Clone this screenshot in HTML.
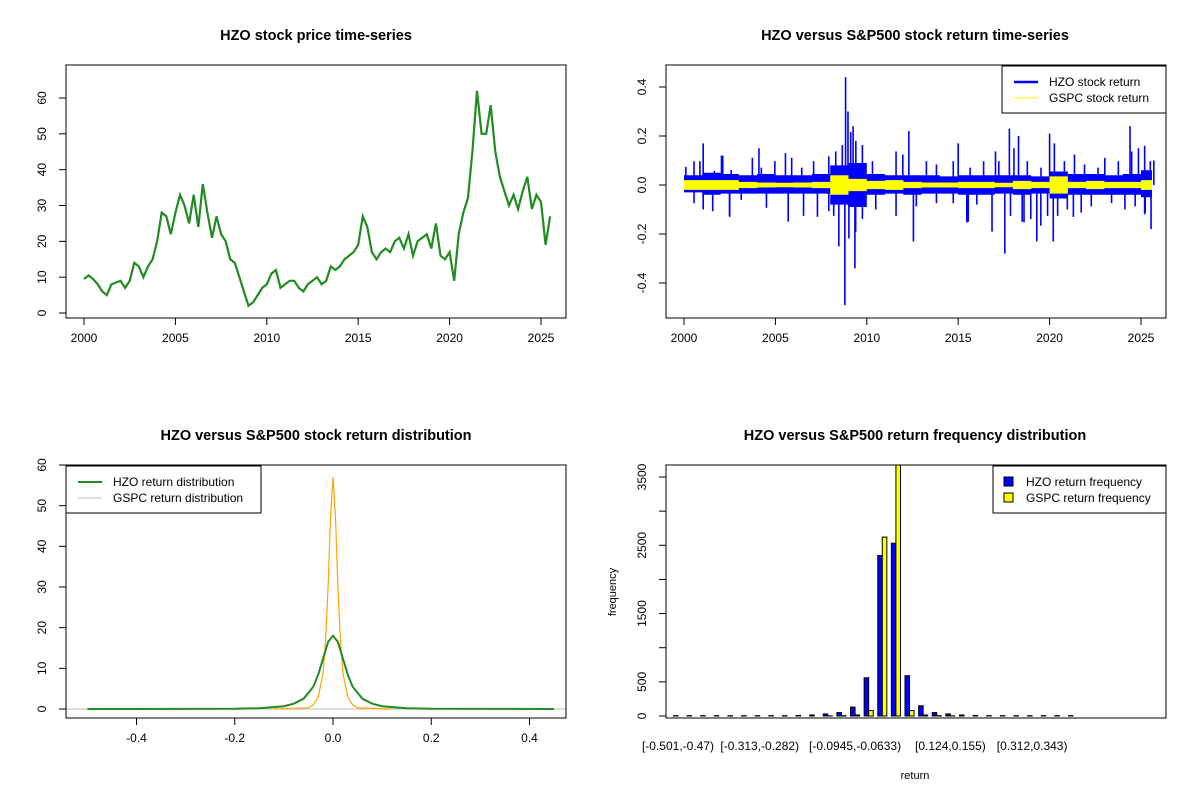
<!DOCTYPE html>
<html><head><meta charset="utf-8"><style>
html,body{margin:0;padding:0;background:#fff;}
svg{display:block;font-family:"Liberation Sans",Arial,sans-serif;}
</style></head><body>
<svg id="c" width="1200" height="800" viewBox="0 0 1200 800"></svg>
<script>
// ---- Panel 1 data: quarterly HZO price ----
const priceYears0 = 2000;
const priceValues = [9.5,10.5,9.5,8, 6,5,8,8.5, 9,7,9,14, 13,10,13,15, 20,28,27,22, 28,33,30,25, 33,24,36,28, 21,27,22,20, 15,14,10,6, 2,3,5,7, 8,11,12,7, 8,9,9,7, 6,8,9,10, 8,9,13,12, 13,15,16,17, 19,27,24,17, 15,17,18,17, 20,21,18,22, 16,20,21,22, 18,25,16,15, 17,9,22,28, 32,45,62,50, 50,58,45,38, 34,30,33,29, 34,38,29,33, 31,19,27];
const priceTicksX = [2000,2005,2010,2015,2020,2025];
const priceTicksY = [0,10,20,30,40,50,60];
// ---- Panel 2 data ----
const retYears = [2000,2001,2002,2003,2004,2005,2006,2007,2008,2009,2010,2011,2012,2013,2014,2015,2016,2017,2018,2019,2020,2021,2022,2023,2024,2025];
const hzoUpper = [0.04,0.05,0.045,0.04,0.045,0.04,0.04,0.045,0.08,0.09,0.045,0.04,0.04,0.04,0.035,0.04,0.04,0.04,0.04,0.035,0.055,0.045,0.045,0.04,0.045,0.06];
const hzoLower = [-0.03,-0.04,-0.035,-0.035,-0.035,-0.035,-0.035,-0.035,-0.08,-0.09,-0.04,-0.035,-0.04,-0.035,-0.035,-0.04,-0.04,-0.035,-0.04,-0.035,-0.055,-0.04,-0.04,-0.04,-0.04,-0.05];
const gspcAmp = [0.02,0.02,0.02,0.013,0.01,0.009,0.01,0.013,0.04,0.025,0.017,0.02,0.013,0.01,0.01,0.013,0.013,0.009,0.017,0.013,0.035,0.013,0.017,0.013,0.013,0.02];
const spikeYears = [2001.05,2002.05,2004.1,2005.55,2008.84,2008.97,2009.25,2009.4,2012.3,2015.0,2017.8,2018.3,2020.0,2024.4,2025.2,2025.7,
 2001.05,2002.5,2005.7,2007.3,2008.47,2008.8,2009.35,2012.55,2015.55,2016.85,2017.55,2018.5,2019.3,2020.2,2021.3,2025.2,2025.55,
 2000.1,2000.55,2000.87,2001.66,2002.12,2002.58,2003.74,2004.23,2004.97,2005.89,2006.44,2007.09,2007.92,2008.3,2008.66,2009.12,2009.76,2010.31,2011.6,2011.97,2013.26,2013.81,2014.73,2015.65,2016.39,2017.04,2017.22,2018.05,2018.78,2019.53,2020.26,2020.81,2021.36,2021.91,2022.65,2023.02,2023.76,2024.49,2024.86,2025.51,
 2000.55,2001.57,2002.49,2003.13,2004.51,2006.54,2007.92,2008.19,2009.02,2009.39,2009.76,2010.49,2011.6,2012.71,2013.81,2014.73,2015.47,2016.02,2017.86,2018.6,2018.97,2019.52,2019.89,2020.44,2020.97,2021.73,2022.28,2023.39,2024.12,2024.68,2025.23];
const spikeValues = [0.17,0.12,0.15,0.13,0.44,0.30,0.24,0.18,0.22,0.17,0.23,0.20,0.21,0.24,0.16,0.10,
 -0.10,-0.13,-0.15,-0.13,-0.25,-0.49,-0.34,-0.23,-0.15,-0.19,-0.28,-0.15,-0.23,-0.23,-0.13,-0.12,-0.18,
 0.074,0.097,0.097,0.058,0.12,0.061,0.111,0.071,0.097,0.111,0.071,0.097,0.117,0.137,0.163,0.216,0.163,0.097,0.137,0.124,0.097,0.084,0.097,0.071,0.097,0.137,0.097,0.150,0.097,0.071,0.170,0.097,0.124,0.084,0.071,0.111,0.097,0.137,0.150,0.097,
 -0.074,-0.107,-0.126,-0.061,-0.093,-0.126,-0.107,-0.126,-0.218,-0.191,-0.139,-0.100,-0.126,-0.087,-0.074,-0.074,-0.153,-0.080,-0.126,-0.153,-0.139,-0.166,-0.126,-0.126,-0.100,-0.113,-0.087,-0.074,-0.100,-0.087,-0.113];
const retTicksY = [-0.4,-0.2,0.0,0.2,0.4];
const retTickLabels = ["-0.4","-0.2","0.0","0.2","0.4"];
// ---- Panel 3 data ----
const hzoDensX = [-0.5,-0.2,-0.15,-0.1,-0.08,-0.06,-0.04,-0.03,-0.02,-0.01,0,0.01,0.02,0.03,0.04,0.06,0.08,0.1,0.15,0.2,0.45];
const hzoDensY = [0,0.05,0.2,0.7,1.3,2.5,5.5,8.5,12.5,16.5,18,16.5,12.5,8.5,5.5,2.5,1.3,0.7,0.2,0.05,0];
const gspcDensX = [-0.12,-0.05,-0.04,-0.03,-0.02,-0.015,-0.01,-0.005,0,0.005,0.01,0.015,0.02,0.03,0.04,0.05,0.12];
const gspcDensY = [0,0.3,1,3,9,17,30,47,57,47,30,17,9,3,1,0.3,0];
const densTicksX = [-0.4,-0.2,0,0.2,0.4];
const densTickLabels = ["-0.4","-0.2","0.0","0.2","0.4"];
const densTicksY = [0,10,20,30,40,50,60];
// ---- Panel 4 data ----
const hzoFreq = [5,5,5,5,5,5,5,5,5,8,15,30,50,130,560,2350,2530,590,150,50,30,15,8,5,5,5,5,5,5,5];
const gspcFreq = [0,0,0,0,0,0,0,0,0,0,0,2,5,15,80,2620,3700,80,15,5,2,0,0,0,0,0,0,0,0,0];
const binLabelIdx = [0,6,13,20,26];
const binLabels = ["[-0.501,-0.47)","[-0.313,-0.282)","[-0.0945,-0.0633)","[0.124,0.155)","[0.312,0.343)"];
const freqTicks = [0,500,1000,1500,2000,2500,3000,3500];
const freqLabelTicks = [0,500,1500,2500,3500];

const svg = document.getElementById('c');
const NS = 'http://www.w3.org/2000/svg';
function mk(tag, attrs, parent){const e=document.createElementNS(NS,tag);for(const k in attrs)e.setAttribute(k,attrs[k]);(parent||svg).appendChild(e);return e;}
function txt(s, x, y, size, opts, parent){const t=mk('text',Object.assign({x:x,y:y,'font-size':size,'text-anchor':'middle',fill:'#000'},opts||{}),parent);t.textContent=s;return t;}

// ===== Panel 1 =====
{
  const g = mk('g',{});
  
  
  const X = y => 84 + (y-2000)*(541-84)/25;
  const Y = v => 313 - v*(313-98)/60;
  let d='';
  priceValues.forEach((v,i)=>{d+=(i?'L':'M')+X(priceYears0+i*0.25).toFixed(1)+','+Y(v).toFixed(1);});
  const p = mk('path',{d:d,fill:'none',stroke:'#228b22','stroke-width':2.2},g);
  
  
  const box = mk('rect',{x:66,y:65,width:500,height:253,fill:'none',stroke:'#000'},g);
  
  
  mk('line',{x1:X(2000),x2:X(2025),y1:318,y2:318,stroke:'#000'},g);
  priceTicksX.forEach(t=>{mk('line',{x1:X(t),x2:X(t),y1:318,y2:325,stroke:'#000'},g);const l=txt(String(t),X(t),342,12,{},g);});
  mk('line',{x1:66,x2:66,y1:Y(0),y2:Y(60),stroke:'#000'},g);
  priceTicksY.forEach(t=>{mk('line',{x1:59,x2:66,y1:Y(t),y2:Y(t),stroke:'#000'},g);const l=txt(String(t),0,0,12,{transform:`translate(46,${Y(t)}) rotate(-90)`},g);});
  const ti = txt('HZO stock price time-series',316,40,14.5,{'font-weight':'bold'},g);
  
  
}

// ===== Panel 2 =====
{
  const g = mk('g',{});
  
  
  const X = y => 684 + (y-2000)*(1141-684)/25;
  const Y = v => 185 - v*245;
  const xEnd = 2025.6;
  function band(up, lo){
    let top='', bot=[];
    retYears.forEach((yr,i)=>{const x0=X(yr),x1=X(Math.min(yr+1,xEnd));top+=(i?'L':'M')+x0+','+Y(up[i])+'L'+x1+','+Y(up[i]);bot.unshift('L'+x1+','+Y(lo[i])+'L'+x0+','+Y(lo[i]));});
    return top+bot.join('')+'Z';
  }
  const hb = mk('path',{d:band(hzoUpper,hzoLower),fill:'#0000ff'},g);
  
  
  spikeYears.forEach((yr,i)=>{const l=mk('line',{x1:X(yr),x2:X(yr),y1:Y(0),y2:Y(spikeValues[i]),stroke:'#0000ff','stroke-width':1.6},g);});
  const gb = mk('path',{d:band(gspcAmp,gspcAmp.map(a=>-a)),fill:'#ffff00'},g);
  
  
  mk('rect',{x:666,y:65,width:500,height:253,fill:'none',stroke:'#000'},g);
  mk('line',{x1:X(2000),x2:X(2025),y1:318,y2:318,stroke:'#000'},g);
  priceTicksX.forEach(t=>{mk('line',{x1:X(t),x2:X(t),y1:318,y2:325,stroke:'#000'},g);const l=txt(String(t),X(t),342,12,{},g);});
  mk('line',{x1:666,x2:666,y1:Y(-0.4),y2:Y(0.4),stroke:'#000'},g);
  retTicksY.forEach((t,i)=>{mk('line',{x1:659,x2:666,y1:Y(t),y2:Y(t),stroke:'#000'},g);const l=txt(retTickLabels[i],0,0,12,{transform:`translate(646,${Y(t)}) rotate(-90)`},g);});
  const ti = txt('HZO versus S&P500 stock return time-series',915,40,14.5,{'font-weight':'bold'},g);
  
  
  const lg = mk('g',{},g);
  
  
  mk('rect',{x:1002,y:66,width:164,height:47,fill:'#fff',stroke:'#000'},lg);
  mk('line',{x1:1014,x2:1038,y1:82,y2:82,stroke:'#0000ff','stroke-width':2.5},lg);
  mk('line',{x1:1014,x2:1038,y1:98,y2:98,stroke:'#ffff00','stroke-width':1},lg);
  txt('HZO stock return',1049,86,12,{'text-anchor':'start'},lg);
  txt('GSPC stock return',1049,102,12,{'text-anchor':'start'},lg);
}

// ===== Panel 3 =====
{
  const g = mk('g',{});
  
  
  const X = v => 333 + v*491.25;
  const Y = v => 709 - v*(709-465)/60;
  mk('line',{x1:66,x2:566,y1:Y(0),y2:Y(0),stroke:'#bbb'},g);
  function line(xs,ys){return xs.map((x,i)=>(i?'L':'M')+X(x).toFixed(1)+','+Y(ys[i]).toFixed(1)).join('');}
  const gp = mk('path',{d:line(gspcDensX,gspcDensY),fill:'none',stroke:'#ffa500','stroke-width':1.2},g);
  
  
  const hp = mk('path',{d:line(hzoDensX,hzoDensY),fill:'none',stroke:'#228b22','stroke-width':2},g);
  
  
  mk('rect',{x:66,y:465,width:500,height:253,fill:'none',stroke:'#000'},g);
  mk('line',{x1:X(-0.4),x2:X(0.4),y1:718,y2:718,stroke:'#000'},g);
  densTicksX.forEach((t,i)=>{mk('line',{x1:X(t),x2:X(t),y1:718,y2:725,stroke:'#000'},g);const l=txt(densTickLabels[i],X(t),742,12,{},g);});
  mk('line',{x1:66,x2:66,y1:Y(0),y2:Y(60),stroke:'#000'},g);
  densTicksY.forEach(t=>{mk('line',{x1:59,x2:66,y1:Y(t),y2:Y(t),stroke:'#000'},g);const l=txt(String(t),0,0,12,{transform:`translate(46,${Y(t)}) rotate(-90)`},g);});
  const ti = txt('HZO versus S&P500 stock return distribution',316,440,14.5,{'font-weight':'bold'},g);
  
  
  const lg = mk('g',{},g);
  
  
  mk('rect',{x:66,y:466,width:195,height:47,fill:'#fff',stroke:'#000'},lg);
  mk('line',{x1:78,x2:102,y1:482,y2:482,stroke:'#228b22','stroke-width':2},lg);
  mk('line',{x1:78,x2:102,y1:498,y2:498,stroke:'#bbb','stroke-width':1},lg);
  txt('HZO return distribution',113,486,12,{'text-anchor':'start'},lg);
  txt('GSPC return distribution',113,502,12,{'text-anchor':'start'},lg);
}

// ===== Panel 4 =====
{
  const g = mk('g',{});
  
  
  const step = 13.62, w = step/3, c0 = 678;
  const Y = v => 716 - v*(716-477)/3500;
  const clip = mk('clipPath',{id:'cp4'},g);
  mk('rect',{x:666,y:465,width:500,height:253},clip);
  const bars = mk('g',{'clip-path':'url(#cp4)'},g);
  hzoFreq.forEach((v,i)=>{
    const x = c0 + i*step - w;
    const b = mk('rect',{x:x,y:Y(v),width:w,height:Y(0)-Y(v),fill:'#0000ff',stroke:'#000','stroke-width':1},bars);
    
    
    const v2 = gspcFreq[i];
    const b2 = mk('rect',{x:x+w,y:Y(v2),width:w,height:Y(0)-Y(v2),fill:'#ffff00',stroke:'#000','stroke-width':1},bars);
    
    
  });
  mk('rect',{x:666,y:465,width:500,height:253,fill:'none',stroke:'#000'},g);
  mk('line',{x1:666,x2:666,y1:Y(0),y2:Y(3500),stroke:'#000'},g);
  freqTicks.forEach(t=>{mk('line',{x1:659,x2:666,y1:Y(t),y2:Y(t),stroke:'#000'},g);});
  freqLabelTicks.forEach(t=>{const l=txt(String(t),0,0,12,{transform:`translate(646,${Y(t)}) rotate(-90)`},g);});
  binLabelIdx.forEach((b,i)=>{const l=txt(binLabels[i],c0+b*step,750,12,{},g);});
  const xt = txt('return',915,779,11,{},g);
  
  
  const yt = txt('frequency',0,0,11,{transform:'translate(616,592) rotate(-90)'},g);
  
  
  const ti = txt('HZO versus S&P500 return frequency distribution',915,440,14.5,{'font-weight':'bold'},g);
  
  
  const lg = mk('g',{},g);
  
  
  mk('rect',{x:993,y:466,width:173,height:47,fill:'#fff',stroke:'#000'},lg);
  mk('rect',{x:1004,y:477,width:9,height:9,fill:'#0000ff',stroke:'#000'},lg);
  mk('rect',{x:1004,y:493,width:9,height:9,fill:'#ffff00',stroke:'#000'},lg);
  txt('HZO return frequency',1026,486,12,{'text-anchor':'start'},lg);
  txt('GSPC return frequency',1026,502,12,{'text-anchor':'start'},lg);
}
</script>
</body></html>
